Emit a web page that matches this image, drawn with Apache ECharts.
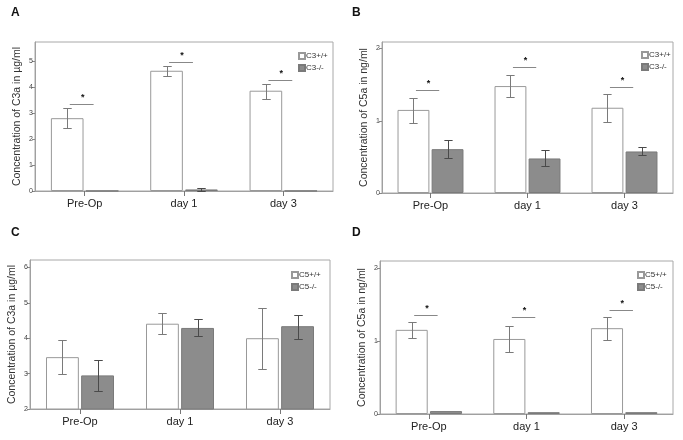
<!DOCTYPE html>
<html><head><meta charset="utf-8">
<script src="https://cdn.jsdelivr.net/npm/echarts@6/dist/echarts.min.js"></script>
<style>html,body{margin:0;padding:0;background:#fff}#c{width:683px;height:440px}</style>
</head><body><div id="c"></div>
<script>
const categories = ['Pre-Op', 'day 1', 'day 3'];

// Panel A: C3a (µg/ml), C3+/+ vs C3-/-
const aWT = [2.81, 4.64, 3.87];
const aWTLo = [2.42, 4.45, 3.56];
const aWTHi = [3.20, 4.81, 4.12];
const aKO = [0.005, 0.06, 0.005];
const aKOLo = [0.005, 0.0, 0.005];
const aKOHi = [0.005, 0.12, 0.005];
const aSig = [3.35, 4.99, 4.27];

// Panel B: C5a (ng/ml), C3+/+ vs C3-/-
const bWT = [1.15, 1.48, 1.18];
const bWTLo = [0.975, 1.33, 0.98];
const bWTHi = [1.32, 1.63, 1.375];
const bKO = [0.607, 0.478, 0.575];
const bKOLo = [0.49, 0.368, 0.524];
const bKOHi = [0.73, 0.593, 0.634];
const bSig = [1.425, 1.743, 1.462];

// Panel C: C3a (µg/ml), C5+/+ vs C5-/-
const cWT = [3.465, 4.41, 4.0];
const cWTLo = [2.99, 4.11, 3.14];
const cWTHi = [3.94, 4.72, 4.85];
const cKO = [2.95, 4.29, 4.34];
const cKOLo = [2.51, 4.05, 3.99];
const cKOHi = [3.38, 4.54, 4.67];
const cSig = [];

// Panel D: C5a (ng/ml), C5+/+ vs C5-/-
const dWT = [1.155, 1.03, 1.178];
const dWTLo = [1.046, 0.85, 1.018];
const dWTHi = [1.26, 1.205, 1.333];
const dKO = [0.04, 0.025, 0.025];
const dKOLo = [0.035, 0.022, 0.022];
const dKOHi = [0.045, 0.028, 0.028];
const dSig = [1.356, 1.33, 1.43];

const aTicks = [0, 1, 2, 3, 4, 5];
const bTicks = [0, 1, 2];
const cTicks = [2, 3, 4, 5, 6];
const dTicks = [0, 1, 2];

const panels = [
  {label: 'A', lx: 11, ly: 7, grid: {left: 35, top: 42, width: 298, height: 149}, min: 0, max: 5.75, ticks: aTicks,
   yName: 'Concentration of C3a in µg/ml', names: ['C3+/+', 'C3-/-'], leg: {left: 298, top: 52},
   wt: aWT, wtLo: aWTLo, wtHi: aWTHi, ko: aKO, koLo: aKOLo, koHi: aKOHi, sig: aSig},
  {label: 'B', lx: 352, ly: 7, grid: {left: 382, top: 42, width: 291, height: 151}, min: 0, max: 2.09, ticks: bTicks,
   yName: 'Concentration of C5a in ng/ml', names: ['C3+/+', 'C3-/-'], leg: {left: 641, top: 51},
   wt: bWT, wtLo: bWTLo, wtHi: bWTHi, ko: bKO, koLo: bKOLo, koHi: bKOHi, sig: bSig},
  {label: 'C', lx: 11, ly: 227, grid: {left: 30, top: 260, width: 300, height: 149}, min: 2, max: 6.21, ticks: cTicks,
   yName: 'Concentration of C3a in µg/ml', names: ['C5+/+', 'C5-/-'], leg: {left: 291, top: 271},
   wt: cWT, wtLo: cWTLo, wtHi: cWTHi, ko: cKO, koLo: cKOLo, koHi: cKOHi, sig: cSig},
  {label: 'D', lx: 352, ly: 227, grid: {left: 380, top: 261, width: 293, height: 153}, min: 0, max: 2.1, ticks: dTicks,
   yName: 'Concentration of C5a in ng/ml', names: ['C5+/+', 'C5-/-'], leg: {left: 637, top: 271},
   wt: dWT, wtLo: dWTLo, wtHi: dWTHi, ko: dKO, koLo: dKOLo, koHi: dKOHi, sig: dSig}
];

const FONT = 'Arial, "Liberation Sans", sans-serif';
const OFF = 0.176;   // bar centre offset, fraction of band
const CAP = 0.085;   // cap width, fraction of band

function errRender(side, color) {
  return function (params, api) {
    const i = api.value(0);
    const lo = api.coord([i, api.value(1)]);
    const hi = api.coord([i, api.value(2)]);
    if (Math.abs(lo[1] - hi[1]) < 1) return null;
    const B = api.size([1, 0])[0];
    const x = Math.round(lo[0] + side * B * OFF) + 0.5;
    const cw = B * CAP / 2;
    const st = {stroke: color, lineWidth: 1};
    const y1 = Math.round(hi[1]) + 0.5, y2 = Math.round(lo[1]) + 0.5;
    return {type: 'group', children: [
      {type: 'line', shape: {x1: x, y1: y1, x2: x, y2: y2}, style: st},
      {type: 'line', shape: {x1: x - cw, y1: y1, x2: x + cw, y2: y1}, style: st},
      {type: 'line', shape: {x1: x - cw, y1: y2, x2: x + cw, y2: y2}, style: st}
    ]};
  };
}

function sigRender(params, api) {
  const i = api.value(0);
  const p = api.coord([i, api.value(1)]);
  const B = api.size([1, 0])[0];
  const x1 = p[0] - 0.15 * B, x2 = p[0] + 0.09 * B;
  const y = Math.round(p[1]) + 0.5;
  return {type: 'group', children: [
    {type: 'line', shape: {x1: x1, y1: y, x2: x2, y2: y}, style: {stroke: '#888', lineWidth: 1}},
    {type: 'text', x: (x1 + x2) / 2 + 1, y: y - 2,
     style: {text: '*', fill: '#111', font: 'bold 9px ' + FONT, align: 'center', verticalAlign: 'bottom'}}
  ]};
}

const option = {
  animation: false,
  backgroundColor: '#fff',
  title: [], grid: [], xAxis: [], yAxis: [], legend: [], series: []
};

panels.forEach((p, k) => {
  option.title.push({text: p.label, left: p.lx, top: p.ly, padding: 0,
    textStyle: {fontSize: 12, fontWeight: 'bold', color: '#111', fontFamily: FONT}});
  option.grid.push(Object.assign({show: true, borderColor: '#a8a8a8', borderWidth: 1, containLabel: false}, p.grid));
  option.xAxis.push({type: 'category', gridIndex: k, data: categories,
    axisLine: {show: true, lineStyle: {color: '#a0a0a0'}},
    axisTick: {show: true, alignWithLabel: true, length: 5, lineStyle: {color: '#777'}},
    axisLabel: {fontSize: 11, color: '#222', margin: 7, fontFamily: FONT},
    splitLine: {show: false}});
  option.yAxis.push({type: 'value', gridIndex: k, min: p.min, max: p.max,
    name: p.yName, nameLocation: 'middle', nameGap: 12,
    nameTextStyle: {fontSize: 10.5, color: '#333', fontFamily: FONT},
    axisLine: {show: true, lineStyle: {color: '#a0a0a0'}},
    axisTick: {show: true, length: 3, customValues: p.ticks, lineStyle: {color: '#888'}},
    axisLabel: {fontSize: 7, color: '#444', margin: 2, customValues: p.ticks, fontFamily: FONT},
    splitLine: {show: false}});
  option.legend.push({orient: 'vertical', left: p.leg.left, top: p.leg.top, padding: 0,
    itemWidth: 6, itemHeight: 6, itemGap: 4, selectedMode: false, icon: 'rect',
    data: p.names, textStyle: {fontSize: 8, color: '#333', fontFamily: FONT, padding: [0, 0, 0, -4]}});
  option.series.push({type: 'bar', name: p.names[0], xAxisIndex: k, yAxisIndex: k, data: p.wt,
    barCategoryGap: '32%', barGap: '7%',
    itemStyle: {color: '#ffffff', borderColor: '#999', borderWidth: 1}});
  option.series.push({type: 'bar', name: p.names[1], xAxisIndex: k, yAxisIndex: k, data: p.ko,
    barCategoryGap: '32%', barGap: '7%',
    itemStyle: {color: '#8c8c8c', borderColor: '#7a7a7a', borderWidth: 1}});
  option.series.push({type: 'custom', xAxisIndex: k, yAxisIndex: k, z: 5,
    data: categories.map((c, i) => [i, p.wtLo[i], p.wtHi[i]]),
    encode: {x: 0, y: [1, 2]}, renderItem: errRender(-1, '#7a7a7a')});
  option.series.push({type: 'custom', xAxisIndex: k, yAxisIndex: k, z: 5,
    data: categories.map((c, i) => [i, p.koLo[i], p.koHi[i]]),
    encode: {x: 0, y: [1, 2]}, renderItem: errRender(1, '#4a4a4a')});
  if (p.sig.length) {
    option.series.push({type: 'custom', xAxisIndex: k, yAxisIndex: k, z: 5,
      data: p.sig.map((v, i) => [i, v]), encode: {x: 0, y: 1}, renderItem: sigRender});
  }
});

const chart = echarts.init(document.getElementById('c'));
chart.setOption(option);
</script>
</body></html>
